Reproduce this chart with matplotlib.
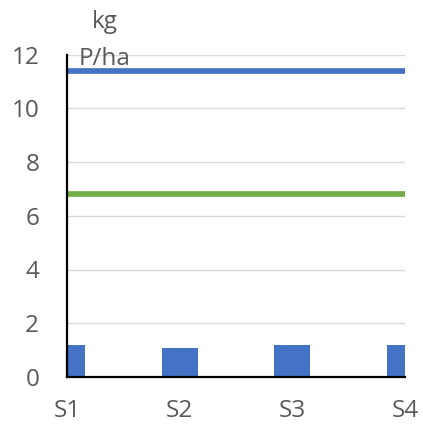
import matplotlib
matplotlib.use("Agg")
import matplotlib.pyplot as plt
import numpy as np

categories = ["S1", "S2", "S3", "S4"]
bar_values = [1.18, 1.08, 1.18, 1.18]
blue_line = [11.4, 11.4, 11.4, 11.4]
green_line = [6.8, 6.8, 6.8, 6.8]
y_ticks = [0, 2, 4, 6, 8, 10, 12]
unit_lines = ["kg", "P/ha"]

plt.rcParams["font.family"] = ["Open Sans", "DejaVu Sans"]
text_color = "#595959"

W, H = 423, 425
fig = plt.figure(figsize=(W / 100, H / 100), dpi=100)
ax = fig.add_axes([67 / W, (H - 377) / H, (405 - 67) / W, (377 - 54.5) / H])

x = np.arange(len(categories))
ax.bar(x, bar_values, width=0.32, color="#4472C4", zorder=2)
ax.plot(x, blue_line, color="#4472C4", lw=4.1, solid_capstyle="butt", zorder=3, clip_on=False)
ax.plot(x, green_line, color="#70AD47", lw=4.1, solid_capstyle="butt", zorder=3, clip_on=False)

ax.set_xlim(0, 3)
ax.set_ylim(0, 12)
ax.set_yticks(y_ticks)
ax.set_xticks(x)
ax.set_xticklabels(categories)
ax.yaxis.grid(True, color="#d9d9d9", lw=1)
ax.set_axisbelow(True)

for s in ("top", "right"):
    ax.spines[s].set_visible(False)
for s in ("left", "bottom"):
    ax.spines[s].set_color("black")
    ax.spines[s].set_linewidth(1.6)
    ax.spines[s].set_zorder(4)

ax.tick_params(axis="both", length=0, labelsize=17.5, colors=text_color)
ax.tick_params(axis="y", pad=20)
ax.tick_params(axis="x", pad=16)

# unit label, two centred lines above the value axis
for line, baseline in zip(unit_lines, (28, 65)):
    fig.text(104.5 / W, 1 - baseline / H, line, ha="center", va="baseline",
             fontsize=17.5, color=text_color)

fig.savefig("out.png", dpi=100)
